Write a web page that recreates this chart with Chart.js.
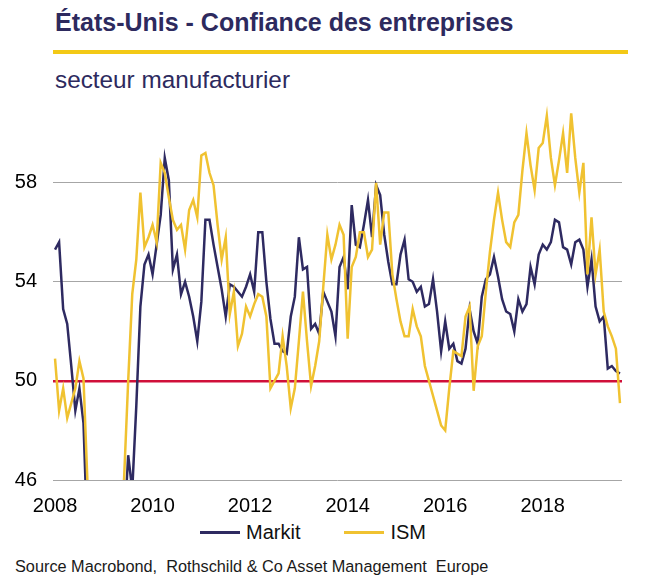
<!DOCTYPE html>
<html lang="fr">
<head>
<meta charset="utf-8">
<title>États-Unis - Confiance des entreprises</title>
<script src="https://cdn.jsdelivr.net/npm/chart.js@4.4.1/dist/chart.umd.min.js"></script>
<style>
  html, body { margin: 0; padding: 0; background: #fff; }
  body { width: 648px; height: 580px; position: relative; overflow: hidden; font-family: "Liberation Sans", Arial, sans-serif; }
  #titre { position: absolute; left: 55px; top: 10px; font-size: 25px; line-height: 25px; font-weight: bold; color: #2d2a5e; white-space: nowrap; }
  #filet { position: absolute; left: 53px; top: 50px; width: 575px; height: 4px; background: #f3c916; }
  #sousTitre { position: absolute; left: 55px; top: 68px; font-size: 24.3px; line-height: 24px; color: #2d2a5e; white-space: nowrap; }
  #zone { position: absolute; left: 0; top: 0; width: 648px; height: 518px; }
  #legende { position: absolute; left: 200px; top: 520px; display: flex; align-items: center; font-size: 20px; line-height: 24px; color: #111; }
  #legende .trait { width: 40px; height: 3px; margin-right: 6px; }
  #legende .nom { margin-right: 44px; }
  #source { position: absolute; left: 15px; top: 558px; font-size: 16.3px; line-height: 16px; color: #1a1a1a; white-space: pre; }
</style>
</head>
<body>
<div id="titre">États-Unis - Confiance des entreprises</div>
<div id="filet"></div>
<div id="sousTitre">secteur manufacturier</div>
<div id="zone"><canvas id="lineChart"></canvas></div>
<div id="legende"></div>
<div id="source">Source Macrobond,  Rothschild &amp; Co Asset Management  Europe</div>

<script>
// Données mensuelles, janvier 2008 -> août 2019
const startYear = 2008;

const markit = [
  55.3, 55.6, 52.9, 52.3, 50.6, 48.8, 49.7, 48.3, 43.5, 39.5, 36.0, 34.0,
  33.5, 35.0, 36.5, 39.5, 42.0, 44.0, 47.0, 45.6, 49.0, 53.0, 54.7, 55.1,
  54.3, 55.5, 56.7, 59.0, 58.1, 54.5, 55.1, 53.5, 54.0, 53.4, 52.6, 51.6,
  53.2, 56.5, 56.5, 55.5, 54.6, 53.7, 52.6, 53.9, 53.8, 53.6, 53.4, 53.8,
  54.3, 53.6, 56.0, 56.0, 54.0, 52.5, 51.5, 51.5, 51.2, 51.1, 52.6, 53.4,
  55.8, 54.5, 54.6, 52.1, 52.3, 51.9, 53.6, 53.2, 52.8, 51.8, 54.6, 55.0,
  53.7, 57.1, 55.5, 55.4, 56.3, 57.3, 55.8, 57.9, 57.5, 55.9, 54.8, 53.9,
  53.9, 55.1, 55.7, 54.1, 54.0, 53.6, 53.8, 53.0, 53.1, 54.1, 52.8, 51.2,
  52.4, 51.3, 51.5, 50.8, 50.7, 51.3, 52.9, 52.0, 51.5, 53.4, 54.1, 54.3,
  55.0, 54.2, 53.3, 52.8, 52.7, 52.0, 53.3, 52.8, 53.1, 54.6, 53.9, 55.1,
  55.5, 55.3, 55.6, 56.5, 56.4, 55.4, 55.3, 54.7, 55.6, 55.7, 55.3, 53.8,
  54.9, 53.0, 52.4, 52.6, 50.5, 50.6, 50.4, 50.3
];

const ism = [
  50.9, 48.8, 49.7, 48.5, 49.1, 49.7, 50.8, 50.1, 45.8, 38.9, 36.2, 32.9,
  35.6, 35.8, 36.3, 40.1, 43.0, 46.1, 50.0, 53.5, 54.9, 57.6, 55.4, 55.8,
  56.3, 55.6, 58.8, 58.4, 57.4, 56.5, 56.1, 56.3, 55.3, 56.9, 57.3, 56.6,
  59.1, 59.2, 58.4, 57.9, 56.3, 54.9, 55.8, 52.7, 53.6, 51.4, 51.9, 53.0,
  52.6, 53.1, 53.5, 53.4, 52.6, 49.7, 50.0, 50.3, 51.8, 50.6, 48.9, 49.7,
  51.6, 53.6, 51.6, 49.8, 50.6, 51.6, 53.8, 55.9, 54.9, 55.5, 56.3, 55.9,
  51.7, 54.6, 55.0, 56.0, 56.0, 55.0, 55.3, 58.0, 55.5, 56.8, 56.8, 54.3,
  53.3, 52.4, 51.8, 51.8, 52.9, 52.2, 51.8, 50.6, 50.0, 49.4, 48.8, 48.2,
  48.0, 49.7, 51.2, 51.1, 51.0, 52.6, 53.0, 49.6, 51.4, 51.8, 53.6, 55.2,
  56.5, 57.6, 56.5, 55.6, 55.4, 56.4, 56.7, 58.5, 60.0, 58.7, 57.7, 59.4,
  59.6, 60.7, 59.0, 57.9, 58.9, 60.0, 58.4, 60.8, 59.0, 57.6, 58.8, 54.3,
  56.6, 54.3, 55.3, 52.8, 52.2, 51.8, 51.3, 49.1
];

const seriesNames = ["Markit", "ISM"];
const xTickLabels = ["2008", "2010", "2012", "2014", "2016", "2018"];
const yTicks = [46, 50, 54, 58];
const yMin = 46;
const yMax = 61.5;
const seuil = 50;

// libellés de mois "AAAA-MM"
const mois = [];
for (let i = 0; i < markit.length; i++) {
  const annee = startYear + Math.floor(i / 12);
  mois.push(annee + "-" + String((i % 12) + 1).padStart(2, "0"));
}

const NAVY = "#2e2a61";
const GOLD = "#f0c231";
const RED = "#d0103a";
const GRID = "#a6a6a6";
const FONT = "'Liberation Sans', Arial, sans-serif";

let chartLine = null;

function initChart() {
  const canvas = document.getElementById("lineChart");
  if (!canvas) return;
  if (chartLine) chartLine.destroy();

  chartLine = new Chart(canvas.getContext("2d"), {
    type: "line",
    data: {
      labels: mois,
      datasets: [
        {
          label: seriesNames[0],
          data: markit,
          borderColor: NAVY,
          borderWidth: 2.5,
          pointRadius: 0,
          tension: 0,
          clip: 0,
          order: 1,
        },
        {
          label: seriesNames[1],
          data: ism,
          borderColor: GOLD,
          borderWidth: 2.5,
          pointRadius: 0,
          tension: 0,
          clip: 0,
          order: 0,
        },
      ],
    },
    options: {
      responsive: true,
      maintainAspectRatio: false,
      animation: false,
      layout: { padding: { left: 0, right: 26, top: 96, bottom: 0 } },
      plugins: {
        legend: { display: false },
        tooltip: { enabled: false },
      },
      scales: {
        x: {
          type: "category",
          offset: true,
          grid: { display: false },
          border: { display: false },
          afterBuildTicks: (axis) => {
            axis.ticks = axis.ticks.filter((t) =>
              mois[t.value].endsWith("-01") && xTickLabels.includes(mois[t.value].slice(0, 4)));
          },
          afterFit: (scale) => { scale.height = 38; },
          ticks: {
            autoSkip: false,
            maxRotation: 0,
            minRotation: 0,
            padding: 6,
            color: "#000",
            font: { family: FONT, size: 20 },
            callback: (value) => mois[value].slice(0, 4),
          },
        },
        y: {
          min: yMin,
          max: yMax,
          afterBuildTicks: (axis) => {
            axis.ticks = yTicks.map((v) => ({ value: v }));
          },
          afterFit: (scale) => { scale.width = 53; },
          border: { display: false },
          grid: {
            drawTicks: false,
            color: (ctx) => (ctx.tick && ctx.tick.value === seuil ? RED : GRID),
            lineWidth: (ctx) => (ctx.tick && ctx.tick.value === seuil ? 2.5 : 1),
          },
          ticks: {
            padding: 16,
            color: "#000",
            font: { family: FONT, size: 20 },
          },
        },
      },
    },
  });

  // légende HTML à partir des jeux de données
  const legende = document.getElementById("legende");
  legende.innerHTML = "";
  chartLine.data.datasets.forEach((ds) => {
    const trait = document.createElement("span");
    trait.className = "trait";
    trait.style.background = ds.borderColor;
    const nom = document.createElement("span");
    nom.className = "nom";
    nom.textContent = ds.label;
    legende.appendChild(trait);
    legende.appendChild(nom);
  });
}

document.addEventListener("DOMContentLoaded", initChart);
</script>
</body>
</html>
